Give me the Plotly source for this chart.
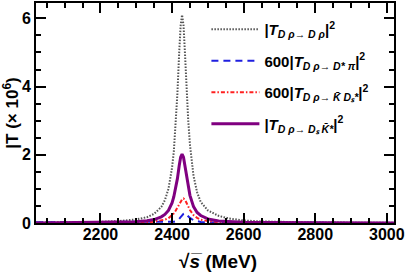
import plotly.graph_objects as go

# sqrt(s) in MeV
sqrt_s = [2020, 2100, 2200, 2250, 2300, 2330, 2350, 2370, 2380, 2390, 2400, 2405, 2410,
          2415, 2420, 2424, 2428, 2432, 2436, 2440, 2445, 2450, 2460, 2470, 2480, 2500,
          2530, 2560, 2600, 2650, 2700, 2800, 2900, 3020]

# |T_{Dρ→Dρ}|^2  (×10^6)
t_drho = [0.01, 0.016, 0.034, 0.055, 0.105, 0.17, 0.27, 0.47, 0.67, 1.0, 1.62, 2.1, 2.85,
          3.8, 5.0, 5.78, 6.1, 5.8, 5.0, 4.07, 3.05, 2.3, 1.38, 0.9, 0.62, 0.37,
          0.21, 0.13, 0.075, 0.045, 0.03, 0.016, 0.01, 0.006]

# 600|T_{Dρ→D*π}|^2
t_dstarpi = [0.02, 0.02, 0.02, 0.02, 0.02, 0.02, 0.02, 0.02, 0.025, 0.03, 0.03, 0.04, 0.05,
             0.08, 0.12, 0.17, 0.23, 0.27, 0.29, 0.25, 0.19, 0.15, 0.08, 0.05, 0.03, 0.02,
             0.015, 0.012, 0.01, 0.008, 0.006, 0.004, 0.003, 0.002]

# 600|T_{Dρ→K̄Ds*}|^2
t_kds = [0.0, 0.0, 0.0, 0.0, 0.0, 0.02, 0.04, 0.07, 0.1, 0.14, 0.22, 0.28, 0.36,
         0.45, 0.56, 0.64, 0.69, 0.72, 0.68, 0.6, 0.48, 0.38, 0.23, 0.15, 0.1, 0.055,
         0.03, 0.018, 0.01, 0.006, 0.004, 0.002, 0.001, 0.0]

# |T_{Dρ→Ds K̄*}|^2
t_dskstar = [0.0, 0.006, 0.013, 0.02, 0.04, 0.068, 0.1, 0.18, 0.25, 0.37, 0.59, 0.77, 1.0,
             1.3, 1.68, 1.93, 2.02, 1.93, 1.68, 1.4, 1.07, 0.81, 0.48, 0.31, 0.22, 0.12,
             0.06, 0.04, 0.022, 0.013, 0.009, 0.005, 0.003, 0.002]

x_ticks = [2200, 2400, 2600, 2800, 3000]
y_ticks = [0, 2, 4, 6]

names = [
    "|<i>T</i><sub><i>D ρ→ D ρ</i></sub>|<sup>2</sup>",
    "600|<i>T</i><sub><i>D ρ→ D* π</i></sub>|<sup>2</sup>",
    "600|<i>T</i><sub><i>D ρ→ K̄ D\u209b*</i></sub>|<sup>2</sup>",
    "|<i>T</i><sub><i>D ρ→ D\u209b K̄*</i></sub>|<sup>2</sup>",
]
series = [t_drho, t_dstarpi, t_kds, t_dskstar]
colors = ["#555555", "#1f1fe0", "#ff2020", "#800080"]
dashes = ["1.5px,1.5px", "7px,5px", "4px,2px,1.5px,2px", "solid"]
widths = [2, 2, 2, 3]

fig = go.Figure()
for i, (nm, ys, c, d, w) in enumerate(zip(names, series, colors, dashes, widths)):
    fig.add_trace(go.Scatter(x=sqrt_s, y=ys, mode="lines", name=nm,
                             legendgroup=str(i),
                             line=dict(color=c, dash=d, width=w)))

FONT = "Liberation Sans, Arial, Helvetica, sans-serif"
axis_common = dict(showline=True, linecolor="black", linewidth=2, mirror="ticks",
                   ticks="inside", tickcolor="black", tickwidth=1.5, ticklen=10,
                   showgrid=False, zeroline=False, automargin=False,
                   tickfont=dict(family=FONT, size=16, color="black", weight="bold"))

fig.update_xaxes(range=[2020, 3020], tickvals=x_ticks, ticklabelstandoff=-4,
                 minor=dict(dtick=50, ticks="inside", ticklen=5, tickcolor="black", tickwidth=1.5),
                 **axis_common)
fig.update_yaxes(range=[0, 6.45], tickvals=y_ticks,
                 minor=dict(dtick=0.5, ticks="inside", ticklen=5, tickcolor="black", tickwidth=1.5),
                 title=dict(text="|T (× 10<sup>6</sup>)", standoff=0,
                            font=dict(family=FONT, size=17, color="black", weight="bold")),
                 **axis_common)

fig.add_annotation(text="√<i>s̅</i> (MeV)", xref="paper", yref="paper",
                   x=0.507, y=-0.177, xanchor="center", yanchor="middle",
                   showarrow=False,
                   font=dict(family=FONT, size=19, color="black", weight="bold"))

fig.update_layout(
    width=407, height=276,
    margin=dict(l=36, r=13, t=3, b=53, autoexpand=False),
    paper_bgcolor="white", plot_bgcolor="white",
    showlegend=True,
    legend=dict(x=0.476, y=0.955, xanchor="left", yanchor="top",
                bgcolor="rgba(0,0,0,0)", borderwidth=0,
                itemwidth=48, tracegroupgap=9,
                font=dict(family=FONT, size=15, color="black", weight="bold")),
)

fig.write_html("out.html", config={"displayModeBar": False},
               post_script="document.body.style.margin='0';document.body.style.padding='0';")
